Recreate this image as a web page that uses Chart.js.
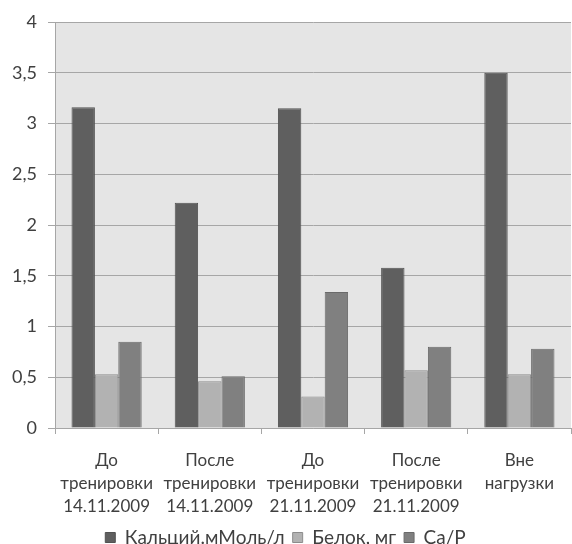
<!DOCTYPE html>
<html>
<head>
<meta charset="utf-8">
<script src="https://cdn.jsdelivr.net/npm/chart.js@4/dist/chart.umd.min.js"></script>
<style>
  html, body { margin: 0; padding: 0; background: #ffffff; }
  #wrap { width: 572px; height: 544px; position: relative; }
</style>
</head>
<body>
<div id="wrap"><canvas id="chart" width="572" height="544"></canvas></div>
<script>
// Measurement groups (multi-line labels)
const categories = [
  ['До', 'тренировки', '14.11.2009'],
  ['После', 'тренировки', '14.11.2009'],
  ['До', 'тренировки', '21.11.2009'],
  ['После', 'тренировки', '21.11.2009'],
  ['Вне', 'нагрузки']
];

// Series values
const calcium = [3.16, 2.22, 3.15, 1.58, 3.5];
const protein = [0.53, 0.46, 0.31, 0.57, 0.53];
const caP = [0.85, 0.51, 1.34, 0.80, 0.78];

const seriesNames = ['Кальций.мМоль/л', 'Белок, мг', 'Ca/P'];

// Y axis range
const yMin = 0;
const yMax = 4;
const yStep = 0.5;

const FONT = "Lato, 'Open Sans', sans-serif";
const TEXT = '#404040';
const GRID = '#a6a6a6';

// Light grey plot-area fill
const plotBackground = {
  id: 'plotBackground',
  beforeDraw(chart) {
    const { ctx, chartArea: a } = chart;
    ctx.save();
    ctx.fillStyle = '#e5e5e5';
    ctx.fillRect(a.left, a.top, a.right - a.left, a.bottom - a.top);
    ctx.restore();
  }
};

new Chart(document.getElementById('chart'), {
  type: 'bar',
  data: {
    labels: categories,
    datasets: [
      { label: seriesNames[0], data: calcium, backgroundColor: '#5f5f5f', borderColor: '#525252', borderWidth: 1 },
      { label: seriesNames[1], data: protein, backgroundColor: '#b2b2b2', borderColor: '#8c8c8c', borderWidth: 1 },
      { label: seriesNames[2], data: caP, backgroundColor: '#808080', borderColor: '#6a6a6a', borderWidth: 1 }
    ]
  },
  options: {
    responsive: false,
    animation: false,
    devicePixelRatio: 1,
    layout: { padding: { top: 22, right: 1, bottom: -13, left: 0 } },
    datasets: { bar: { categoryPercentage: 0.68, barPercentage: 1 } },
    plugins: {
      legend: {
        position: 'bottom',
        labels: {
          font: { family: FONT, size: 19 },
          color: TEXT,
          boxWidth: 10,
          boxHeight: 10,
          padding: 8
        }
      },
      tooltip: { enabled: false }
    },
    scales: {
      x: {
        afterFit(scale) { scale.height = 92; },
        grid: { offset: true, drawOnChartArea: false, color: GRID, tickLength: 6 },
        border: { color: GRID },
        ticks: { font: { family: FONT, size: 17, lineHeight: 1.36 }, color: TEXT, padding: 15, maxRotation: 0, autoSkip: false }
      },
      y: {
        min: yMin,
        max: yMax,
        afterFit(scale) { scale.width = 55; },
        grid: { color: GRID, tickLength: 7 },
        border: { color: GRID },
        ticks: {
          stepSize: yStep,
          font: { family: FONT, size: 18 },
          color: TEXT,
          padding: 11,
          callback: (v) => String(v).replace('.', ',')
        }
      }
    }
  },
  plugins: [plotBackground]
});
</script>
</body>
</html>
